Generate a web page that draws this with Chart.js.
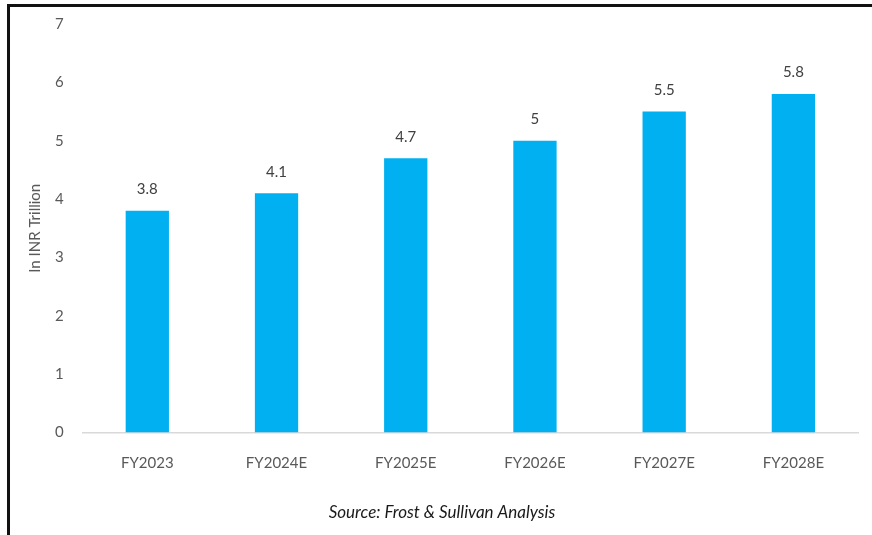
<!DOCTYPE html>
<html>
<head>
<meta charset="utf-8">
<script src="https://cdn.jsdelivr.net/npm/chart.js@4.4.0/dist/chart.umd.min.js"></script>
<style>
  html, body { margin: 0; padding: 0; background: #fff; }
  #frame {
    position: absolute; left: 7px; top: 4px; width: 865px; height: 531px;
    border-top: 3px solid #111; border-left: 3px solid #111; box-sizing: border-box;
  }
  #wrap { position: absolute; left: 0; top: 0; width: 872px; height: 535px; }
</style>
</head>
<body>
<div id="frame"></div>
<div id="wrap"><canvas id="chart"></canvas></div>
<script>
const categories = ['FY2023', 'FY2024E', 'FY2025E', 'FY2026E', 'FY2027E', 'FY2028E'];
const marketSize = [3.8, 4.1, 4.7, 5, 5.5, 5.8];
const yTicks = [0, 1, 2, 3, 4, 5, 6, 7];

// labels above each bar
const valueLabels = {
    id: 'valueLabels',
    afterDatasetsDraw(chart) {
        const ctx = chart.ctx;
        const meta = chart.getDatasetMeta(0);
        ctx.save();
        ctx.font = '15px Lato, "Open Sans", sans-serif';
        ctx.fillStyle = '#404040';
        ctx.textAlign = 'center';
        ctx.textBaseline = 'bottom';
        meta.data.forEach((bar, i) => {
            ctx.fillText(String(marketSize[i]), bar.x, bar.y - 14);
        });
        ctx.restore();
    }
};

new Chart(document.getElementById('chart').getContext('2d'), {
    type: 'bar',
    data: {
        labels: categories,
        datasets: [{
            data: marketSize,
            backgroundColor: '#00B0F0',
            categoryPercentage: 1,
            barPercentage: 0.335
        }]
    },
    options: {
        responsive: true,
        maintainAspectRatio: false,
        animation: false,
        layout: { padding: { left: 26, right: 14, top: 24, bottom: 12 } },
        plugins: {
            legend: { display: false },
            tooltip: { enabled: false },
            title: {
                display: true,
                position: 'bottom',
                text: 'Source: Frost & Sullivan Analysis',
                color: '#1a1a1a',
                font: { family: 'Lato, "Open Sans", sans-serif', size: 17, style: 'italic', weight: 'normal' },
                padding: { top: 16, bottom: 0 }
            }
        },
        scales: {
            x: {
                grid: { display: false },
                border: { display: true, color: '#d9d9d9', width: 1.5 },
                ticks: {
                    color: '#595959',
                    padding: 14,
                    font: { family: 'Lato, "Open Sans", sans-serif', size: 15 }
                }
            },
            y: {
                min: 0,
                max: 7,
                grid: { display: false },
                border: { display: false },
                afterBuildTicks(axis) {
                    axis.ticks = yTicks.map(v => ({ value: v }));
                },
                ticks: {
                    color: '#595959',
                    padding: 11,
                    font: { family: 'Lato, "Open Sans", sans-serif', size: 15 }
                },
                title: {
                    display: true,
                    text: 'In INR Trillion',
                    color: '#595959',
                    padding: { top: 0, bottom: 0 },
                    font: { family: 'Lato, "Open Sans", sans-serif', size: 15 }
                }
            }
        }
    },
    plugins: [valueLabels]
});
</script>
</body>
</html>
